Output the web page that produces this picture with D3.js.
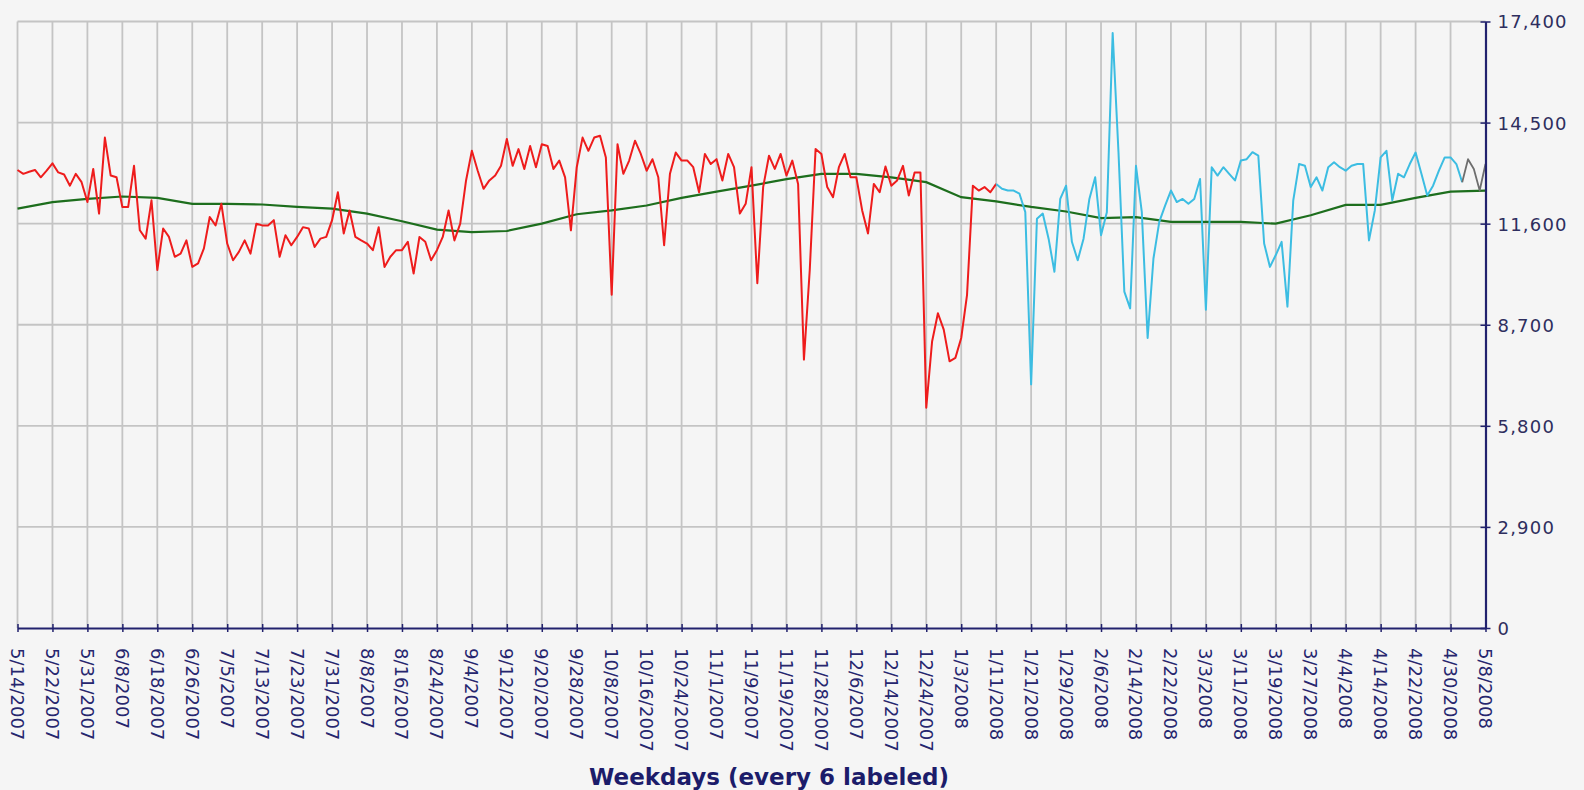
<!DOCTYPE html>
<html><head><meta charset="utf-8">
<script src="https://cdn.jsdelivr.net/npm/d3@7"></script>
<style>html,body{margin:0;padding:0;background:#f5f5f5;} svg{display:block;}</style>
</head><body><svg id="chart" width="1584" height="790"></svg>
<script>
// ---- data ----
const dateLabels = ["5/14/2007","5/22/2007","5/31/2007","6/8/2007","6/18/2007","6/26/2007","7/5/2007","7/13/2007","7/23/2007","7/31/2007","8/8/2007","8/16/2007","8/24/2007","9/4/2007","9/12/2007","9/20/2007","9/28/2007","10/8/2007","10/16/2007","10/24/2007","11/1/2007","11/9/2007","11/19/2007","11/28/2007","12/6/2007","12/14/2007","12/24/2007","1/3/2008","1/11/2008","1/21/2008","1/29/2008","2/6/2008","2/14/2008","2/22/2008","3/3/2008","3/11/2008","3/19/2008","3/27/2008","4/4/2008","4/14/2008","4/22/2008","4/30/2008","5/8/2008"];
const labelStep = 6;

const redStart = 0;
const redValues = [13140,13030,13090,13140,12930,13120,13330,13070,13010,12690,
 13030,12790,12220,13170,11890,14070,12980,12930,12080,12080,
 13260,11410,11170,12270,10270,11460,11220,10650,10740,11120,
 10360,10460,10890,11790,11550,12170,11030,10550,10790,11120,
 10740,11600,11550,11550,11700,10650,11270,10980,11220,11500,
 11460,10930,11170,11220,11700,12500,11320,11980,11220,11120,
 11030,10840,11500,10360,10650,10840,10840,11080,10170,11220,
 11080,10550,10840,11220,11980,11120,11600,12840,13690,13120,
 12600,12840,12980,13260,14030,13260,13740,13170,13830,13220,
 13880,13830,13170,13410,12930,11410,13220,14070,13690,14070,
 14120,13500,9560,13880,13030,13410,13980,13600,13120,13450,
 12930,10980,13030,13640,13410,13410,13220,12500,13600,13310,
 13450,12840,13600,13220,11890,12170,13220,9890,12650,13550,
 13170,13600,12980,13410,12740,7700,10270,13740,13600,12650,
 12360,13220,13600,12930,12930,11980,11320,12740,12500,13240,
 12690,12840,13260,12410,13070,13070,6320,8220,9030,8560,
 7650,7750,8320,9560,12690,12550,12650,12500,12740];

const cyanStart = 168;
const cyanValues = [12740,12600,12550,12550,12460,11930,6990,11740,11890,11170,
 10220,12310,12690,11080,10550,11170,12310,12930,11270,11930,
 17070,13640,9650,9170,13260,11930,8320,10600,11650,12120,
 12550,12220,12310,12170,12310,12880,9130,13220,12980,13220,
 13030,12840,13410,13450,13650,13550,11030,10360,10700,11080,
 9220,12270,13310,13260,12650,12930,12550,13220,13360,13220,
 13120,13260,13310,13310,11120,11980,13500,13690,12270,13030,
 12930,13310,13640,13030,12410,12690,13120,13500,13500,13310,
 12790];

const greyStart = 248;
const greyValues = [12790,13450,13170,12550,13310];

// moving average, one value per labeled weekday
const avgValues = [12030,12220,12310,12380,12340,12170,12170,12150,12080,12030,
 11890,11670,11430,11360,11390,11600,11870,11980,12120,12340,
 12520,12690,12880,13030,13030,12930,12790,12360,12240,12080,
 11950,11760,11790,11650,11650,11650,11600,11840,12140,12140,
 12340,12520,12550];

const yTickValues = [0,2900,5800,8700,11600,14500,17400];
const xTitle = "Weekdays (every 6 labeled)";

// ---- drawing ----
const W = 1584, H = 790;
const svg = d3.select("#chart");
const nPts = (dateLabels.length - 1) * labelStep;
const x = d3.scaleLinear().domain([0, nPts]).range([17.5, 1485.5]);
const y = d3.scaleLinear().domain([0, 17400]).range([628, 21.5]);
const navy = "#22226e";

svg.append("rect").attr("width", W).attr("height", H).attr("fill", "#f5f5f5");

const grid = svg.append("g").attr("stroke", "#c4c4c4").attr("stroke-width", 1.8);
grid.selectAll("line.h").data(yTickValues.filter(v => v > 0)).join("line")
  .attr("class", "h")
  .attr("x1", x(0)).attr("x2", x(nPts))
  .attr("y1", d => y(d)).attr("y2", d => y(d));
grid.selectAll("line.v").data(d3.range(0, nPts, labelStep)).join("line")
  .attr("class", "v")
  .attr("x1", d => x(d)).attr("x2", d => x(d))
  .attr("y1", y(17400)).attr("y2", y(0));

const line = d3.line().x(d => x(d.i)).y(d => y(d.v));
const toPts = (vals, start, step = 1) => vals.map((v, k) => ({ i: start + k * step, v }));

svg.append("path").datum(toPts(avgValues, 0, labelStep))
  .attr("d", line).attr("fill", "none").attr("stroke", "#1d6e1d").attr("stroke-width", 2.2);
svg.append("path").datum(toPts(redValues, redStart))
  .attr("d", line).attr("fill", "none").attr("stroke", "#ee1c1c").attr("stroke-width", 2).attr("stroke-linejoin", "round");
svg.append("path").datum(toPts(cyanValues, cyanStart))
  .attr("d", line).attr("fill", "none").attr("stroke", "#3cbde2").attr("stroke-width", 2).attr("stroke-linejoin", "round");
svg.append("path").datum(toPts(greyValues, greyStart))
  .attr("d", line).attr("fill", "none").attr("stroke", "#6e6e6e").attr("stroke-width", 1.8).attr("stroke-linejoin", "round");

// x axis
const tickIdx = d3.range(0, nPts + 1, labelStep);
const xAxis = d3.axisBottom(x).tickValues(tickIdx).tickFormat("").tickSizeOuter(0);
const gx = svg.append("g").attr("transform", `translate(0,${y(0)})`).call(xAxis);
gx.select(".domain").attr("stroke", navy).attr("stroke-width", 2.2);
gx.selectAll(".tick line").attr("stroke", navy).attr("stroke-width", 1.5).attr("y1", -4).attr("y2", 4);
gx.selectAll(".tick text").remove();

svg.append("g").selectAll("text").data(tickIdx).join("text")
  .attr("transform", d => `translate(${x(d)},${y(0) + 20}) rotate(90)`)
  .attr("dy", "0.36em")
  .attr("text-anchor", "start")
  .attr("fill", "#26266e")
  .style("font-family", "'DejaVu Sans', sans-serif")
  .style("font-size", "18px")
  .text(d => dateLabels[d / labelStep]);

// y axis (right)
const yAxis = d3.axisRight(y).tickValues(yTickValues).tickFormat(d3.format(",")).tickSizeOuter(0);
const gy = svg.append("g").attr("transform", `translate(${x(nPts)},0)`).call(yAxis);
gy.select(".domain").attr("stroke", navy).attr("stroke-width", 2.2);
gy.selectAll(".tick line").attr("stroke", navy).attr("stroke-width", 1.5).attr("x1", -5).attr("x2", 5);
gy.selectAll(".tick text")
  .attr("x", 12).attr("dy", "0.36em")
  .attr("fill", "#2e2e5e")
  .style("font-family", "'DejaVu Sans', sans-serif")
  .style("font-size", "18px")
  .style("letter-spacing", "1.2px");

svg.append("text")
  .attr("x", 769).attr("y", 785)
  .attr("text-anchor", "middle")
  .attr("fill", "#1c1c6a")
  .style("font-family", "'DejaVu Sans', sans-serif")
  .style("font-weight", "bold")
  .style("font-size", "23px")
  .text(xTitle);
</script>
</body></html>
